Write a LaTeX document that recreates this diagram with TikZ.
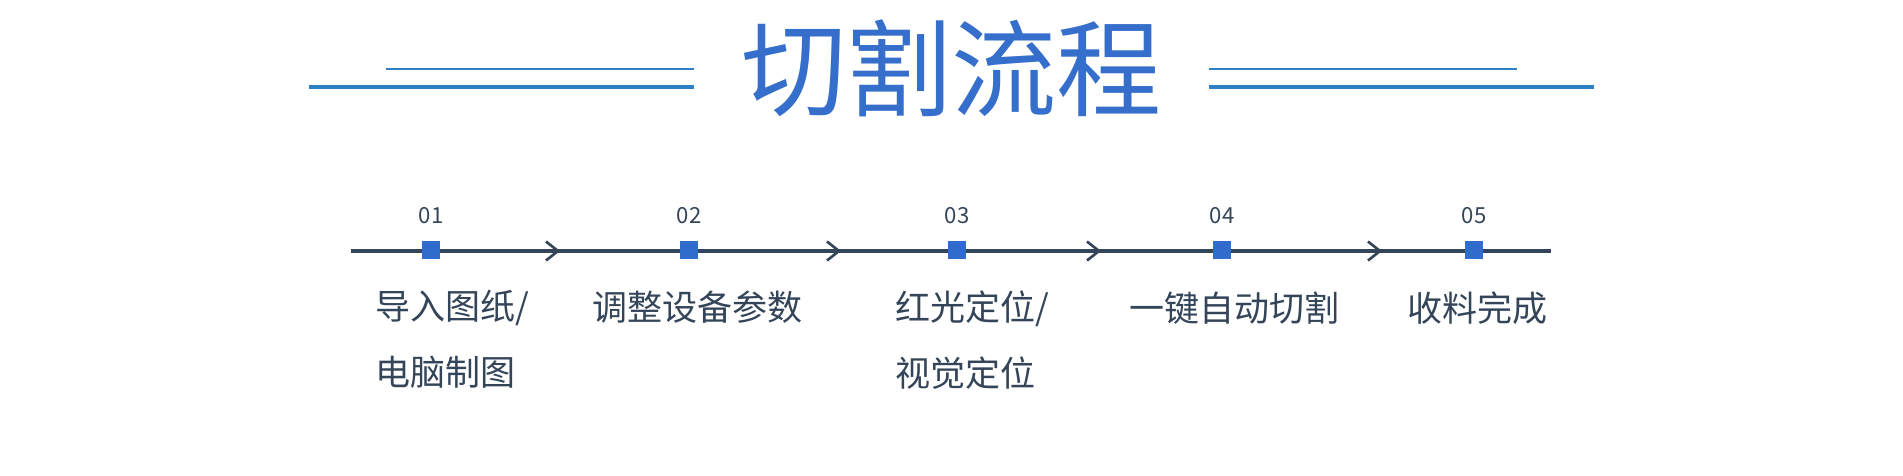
\documentclass[tikz,border=0pt]{standalone}
\usepackage{fontspec}
\setmainfont{Noto Sans CJK SC}
\usetikzlibrary{arrows.meta,positioning}
\definecolor{titleblue}{HTML}{356FCB}
\definecolor{lineblue}{HTML}{2E80C4}
\definecolor{slate}{HTML}{34455A}
\definecolor{markblue}{HTML}{306CCC}

\begin{document}
\begin{tikzpicture}[x=0.01cm,y=-0.01cm,
    marker/.style={fill=markblue,minimum size=5.1pt,inner sep=0pt},
    stepnum/.style={slate,font=\fontsize{6.3}{7}\selectfont,inner sep=0pt},
    steplabel/.style={slate,font=\fontsize{9.96}{18.5}\selectfont,inner sep=0pt,align=left,anchor=base west},
    chevron/.style={slate,line width=0.75pt}]
    \useasboundingbox (0,0) rectangle (1903,475);
    % title with the double rules
    \node[titleblue,font=\fontsize{29.9}{32}\selectfont,inner sep=0pt] (title) at (951.5,68) {切割流程};
    \draw[lineblue,line width=0.6pt] (386,69)--(694,69);
    \draw[lineblue,line width=1.15pt] (309,87)--(694,87);
    \draw[lineblue,line width=0.6pt] (1209,69)--(1517,69);
    \draw[lineblue,line width=1.15pt] (1209,87)--(1594,87);
    % time line
    \coordinate (tlstart) at (351,251);
    \coordinate (tlend) at (1551,251);
    \draw[slate,line width=1.4pt] (tlstart)--(tlend);
    \foreach \x in {558,839,1099,1380}
      \draw[chevron] (\x-12,241.5)--(\x,251)--(\x-12,260.5);
    \foreach \i/\x in {1/431,2/689,3/957,4/1222,5/1474} {
      \node[marker] (m\i) at (\x,250) {};
      \node[stepnum,above=4.5pt of m\i] (n\i) {0\i};
    }
    % step texts (two-line ones sit on their last baseline)
    \node[steplabel] (lab1) at (375,385) {导入图纸/\\电脑制图};
    \node[steplabel] (lab2) at (592,320) {调整设备参数};
    \node[steplabel] (lab3) at (895,386) {红光定位/\\视觉定位};
    \node[steplabel] (lab4) at (1129,321) {一键自动切割};
    \node[steplabel] (lab5) at (1407,321) {收料完成};
\end{tikzpicture}
\end{document}
